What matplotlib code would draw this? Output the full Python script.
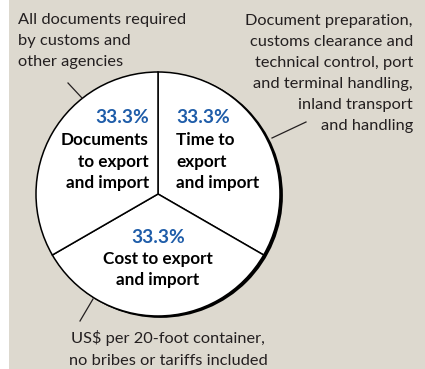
import matplotlib
matplotlib.use("Agg")
import matplotlib.pyplot as plt
from matplotlib.patches import Circle, Rectangle

# ---- data ----
categories = ["Time to\nexport\nand import", "Cost to export\nand import", "Documents\nto export\nand import"]
shares = [33.3, 33.3, 33.3]
pct_labels = ["33.3%", "33.3%", "33.3%"]
note_left = ["All documents required", "by customs and", "other agencies"]
note_right = ["Document preparation,", "customs clearance and", "technical control, port",
              "and terminal handling,", "inland transport", "and handling"]
note_bottom = ["US$ per 20-foot container,", "no bribes or tariffs included"]

W, H = 425, 369
BG = "#ddd9cf"
BLUE = "#1f5da9"
TXT = "#231f20"
FONT = "Lato"

fig = plt.figure(figsize=(W / 100, H / 100), dpi=100)
fig.patch.set_facecolor("white")
ax = fig.add_axes([0, 0, 1, 1])

def Y(y):
    return H - y

cx, cy, R = 158, Y(194), 122

# background panel
ax.add_patch(Rectangle((9, 0), W - 9, H, facecolor=BG, edgecolor="none", zorder=0))
# shadow for thick right edge
ax.add_patch(Circle((cx + 2.3, cy - 1.3), R + 0.6, facecolor="black", edgecolor="none", zorder=1))

ax.pie(shares, startangle=90, counterclock=False, center=(cx, cy), radius=R,
       colors=["white"] * 3, wedgeprops=dict(edgecolor="black", linewidth=1.1),
       frame=True)
for w in ax.patches[-3:]:
    w.set_zorder(2)

ax.set_xlim(0, W)
ax.set_ylim(0, H)
ax.set_aspect("auto")
ax.axis("off")

fs = 11.8
fsb = 12.3
def lines(xs, ys, texts, ha, size=fs, **kw):
    for t, y in zip(texts, ys):
        ax.text(xs, Y(y), t, ha=ha, va="baseline", fontsize=size, family=FONT, zorder=5, **kw)

# notes
lines(18, [24, 45, 66], note_left, "left", color=TXT)
lines(413, [25, 46, 67, 88, 109, 130], note_right, "right", color=TXT)
lines(168, [343, 365], note_bottom, "center", color=TXT)

# slice labels: Time (right), Cost (bottom), Documents (left)
pos = [(176, [123, 145, 167, 188], "left"),
       (158, [243, 264, 285], "center"),
       (149, [123, 145, 167, 188], "right")]
for (x, ys, ha), cat, pl in zip(pos, categories, pct_labels):
    ax.text(x, Y(ys[0]), pl, ha=ha, va="baseline", fontsize=13.8, family=FONT,
            fontweight="bold", color=BLUE, zorder=5)
    lines(x, ys[1:], cat.split("\n"), ha, size=fsb, color="black", fontweight="bold")

# leader lines
for (x1, y1, x2, y2) in [(68, 83, 82, 98), (306, 122, 272, 138), (80, 321, 93, 299)]:
    ax.plot([x1, x2], [Y(y1), Y(y2)], color=TXT, lw=0.9, zorder=4)

fig.savefig("out.png", dpi=100, facecolor=fig.get_facecolor())
